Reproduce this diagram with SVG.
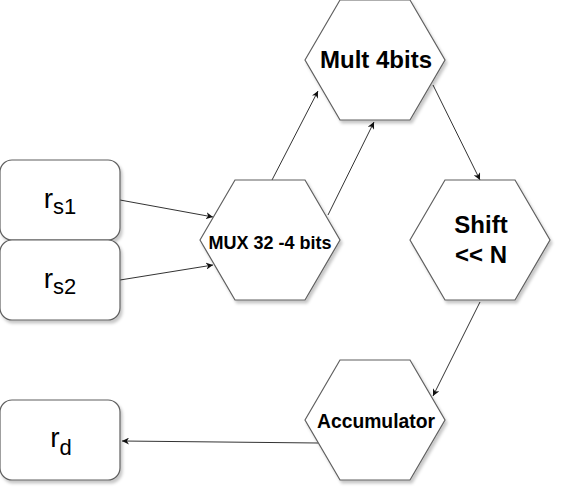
<svg xmlns="http://www.w3.org/2000/svg" width="562" height="492" viewBox="0 0 562 492">
<style>
.shape{fill:#fff;stroke:#5f5f5f;stroke-width:1.2;filter:url(#sh)}
.edge{fill:none;stroke:#333;stroke-width:1;marker-end:url(#arr)}
.lbl{font-family:"Liberation Sans",Arial,sans-serif;font-weight:bold;fill:#000;text-anchor:middle}
.reg{font-family:"Liberation Sans",Arial,sans-serif;fill:#000}
.big{font-size:28px}
.sub{font-size:22px}
</style>
<defs>
<filter id="sh" x="-10%" y="-10%" width="130%" height="130%">
<feDropShadow dx="2" dy="3" stdDeviation="1.5" flood-color="#000" flood-opacity="0.22"/>
</filter>
<marker id="arr" viewBox="0 0 10 10" refX="10" refY="5" markerWidth="7" markerHeight="7" markerUnits="userSpaceOnUse" orient="auto">
<path d="M0,0 L10,5 L0,10 L3,5 Z" fill="#111"/>
</marker>
</defs>
<g id="connectors">
<path class="edge" d="M120,200 L213,217"/>
<path class="edge" d="M120,280 L213,265"/>
<path class="edge" d="M272,180 L318,91"/>
<path class="edge" d="M328,215 L374,122"/>
<path class="edge" d="M433,85 L480,180"/>
<path class="edge" d="M480,302 L433,396"/>
<path class="edge" d="M318,443 L122,441"/>
</g>
<g id="rs1">
<rect class="shape" x="0" y="160" width="120" height="80" rx="12"/>
<text class="reg" x="60" y="208" text-anchor="middle"><tspan class="big">r</tspan><tspan class="sub" dy="6">s1</tspan></text>
</g>
<g id="rs2">
<rect class="shape" x="0" y="240" width="120" height="80" rx="12"/>
<text class="reg" x="60" y="288" text-anchor="middle"><tspan class="big">r</tspan><tspan class="sub" dy="6">s2</tspan></text>
</g>
<g id="rd">
<rect class="shape" x="0" y="400" width="120" height="80" rx="12"/>
<text class="reg" x="61" y="447" text-anchor="middle"><tspan class="big">r</tspan><tspan class="sub" dy="8">d</tspan></text>
</g>
<g id="mux">
<polygon class="shape" points="200,240 235,180 305,180 340,240 305,300 235,300"/>
<text class="lbl" x="270" y="249" font-size="18">MUX 32 -4 bits</text>
</g>
<g id="mult">
<polygon class="shape" points="305,60 340,0 410,0 445,60 410,120 340,120"/>
<text class="lbl" x="376" y="68" font-size="24">Mult 4bits</text>
</g>
<g id="shift">
<polygon class="shape" points="410,240 445,180 515,180 550,240 515,300 445,300"/>
<text class="lbl" x="481" y="233" font-size="24">Shift</text>
<text class="lbl" x="481" y="263" font-size="24">&lt;&lt; N</text>
</g>
<g id="accumulator">
<polygon class="shape" points="305,420 340,360 410,360 445,420 410,480 340,480"/>
<text class="lbl" x="376" y="428" font-size="19.3">Accumulator</text>
</g>
</svg>
